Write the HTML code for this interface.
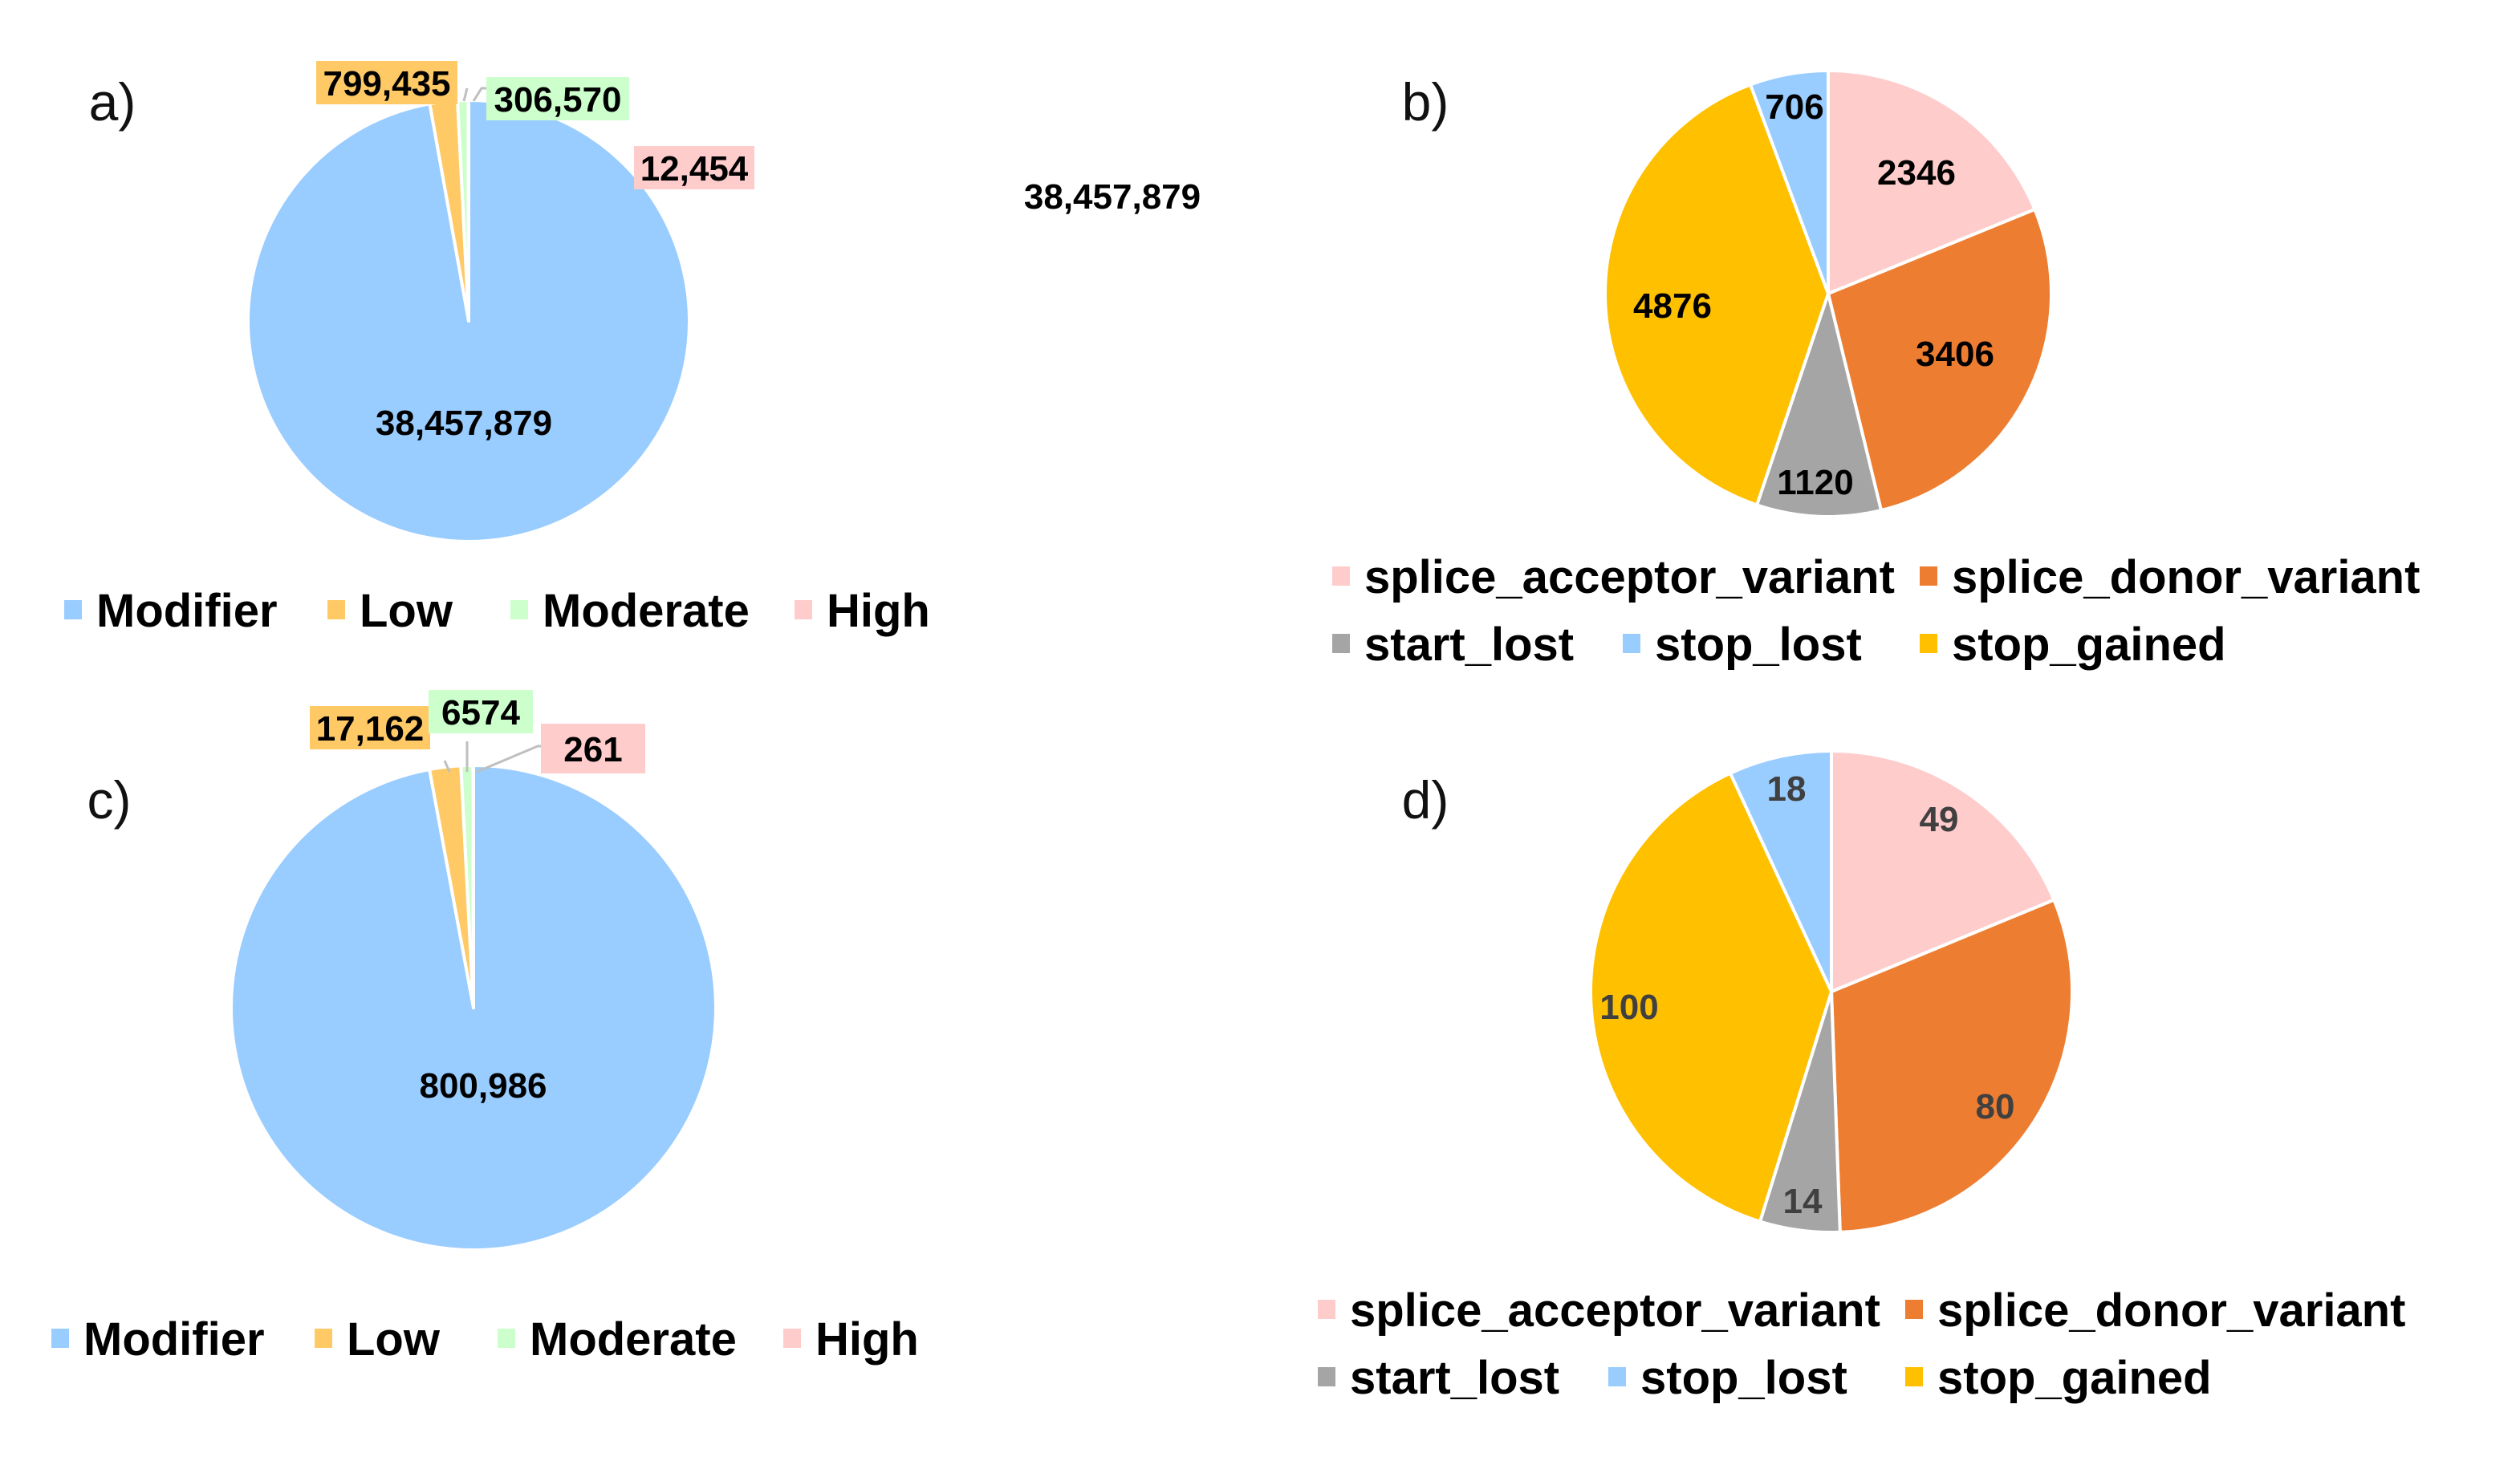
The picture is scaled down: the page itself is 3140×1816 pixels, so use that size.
<!DOCTYPE html>
<html><head><meta charset="utf-8">
<style>
html,body{margin:0;padding:0;background:#fff;}
svg{display:block;font-family:"Liberation Sans",Arial,sans-serif;}
.lbl{font-weight:bold;font-size:44px;}
.leg{font-weight:bold;font-size:58px;}
.panel{font-size:66px;fill:#111;}
</style></head>
<body>
<svg id="fig" width="3140" height="1816" viewBox="0 0 3140 1816" xmlns="http://www.w3.org/2000/svg">
<g id="layer"></g>
</svg>
<script>
// Chart a
const impactCats = ["Modifier","Low","Moderate","High"];
const impactColors = ["#99ccff","#ffc966","#ccffcc","#ffcccc"];
const valuesA = [38457879, 799435, 306570, 12454];
const labelsA = ["38,457,879","799,435","306,570","12,454"];
// Chart c
const valuesC = [800986, 17162, 6574, 261];
const labelsC = ["800,986","17,162","6574","261"];
// Chart b / d
const effectCats = ["splice_acceptor_variant","splice_donor_variant","start_lost","stop_lost","stop_gained"];
const effectColors = ["#ffcccc","#ed7d31","#a5a5a5","#99ccff","#ffc000"];
const sliceOrder = [0,1,2,4,3]; // clockwise order of effect categories
const valuesB = [2346, 3406, 1120, 4876, 706];
const valuesD = [49, 80, 14, 100, 18];

const NS="http://www.w3.org/2000/svg";
const layer=document.getElementById('layer');
function mk(tag,attrs,parent){const e=document.createElementNS(NS,tag);for(const k in attrs)e.setAttribute(k,attrs[k]);(parent||layer).appendChild(e);return e;}
function pt(cx,cy,r,a){return [cx+r*Math.sin(a),cy-r*Math.cos(a)];}
function pie(name,cx,cy,r,vals,colors){
  const g=mk('g',{});
  
  
  const tot=vals.reduce((s,v)=>s+v,0);let a=0;const mids=[];
  vals.forEach((v,i)=>{
    const a2=a+v/tot*2*Math.PI;
    const p1=pt(cx,cy,r,a),p2=pt(cx,cy,r,a2);
    const large=(a2-a)>Math.PI?1:0;
    const p=mk('path',{d:`M${cx},${cy} L${p1[0]},${p1[1]} A${r},${r} 0 ${large} 1 ${p2[0]},${p2[1]} Z`,fill:colors[i],stroke:'#fff','stroke-width':4,'stroke-linejoin':'round'},g);
    
    
    mids.push((a+a2)/2);a=a2;
  });
  return mids;
}
function txt(s,x,y,cls,fill,name,anchor){
  const t=mk('text',{x:x,y:y,'class':cls,fill:fill||'#000','text-anchor':anchor||'middle'});
  t.textContent=s;
  
  
  return t;
}
function box(s,x,y,w,h,color,name){
  const r=mk('rect',{x:x,y:y,width:w,height:h,fill:color});
  
  
  txt(s,x+w/2,y+h/2+16,'lbl','#000',name);
}
function line(pts){const l=mk('polyline',{points:pts.map(p=>p.join(',')).join(' '),fill:'none',stroke:'#bfbfbf','stroke-width':3});
  
  }

// Panel a
txt('a)',140,150,'panel','#111','panel-label-a');
pie('pie-a',584,400,275,valuesA,impactColors);
line([[578,126],[582,110]]);
line([[590,126],[600,110],[608,110]]);
box(labelsA[1],394,76,176,54,impactColors[1],'label-low-a');
box(labelsA[2],606,96,178,54,impactColors[2],'label-moderate-a');
box(labelsA[3],790,182,150,54,impactColors[3],'label-high-a');
txt(labelsA[0],578,542,'lbl','#000','label-modifier-a');
txt('38,457,879',1386,260,'lbl','#000','stray-label');

// Panel c
txt('c)',136,1020,'panel','#111','panel-label-c');
pie('pie-c',590,1256,302,valuesC,impactColors);
line([[554,948],[560,962]]);
line([[582,924],[582,962]]);
line([[594,962],[670,930],[676,930]]);
box(labelsC[1],386,880,150,54,impactColors[1],'label-low-c');
box(labelsC[2],534,860,130,54,impactColors[2],'label-moderate-c');
box(labelsC[3],674,902,130,62,impactColors[3],'label-high-c');
txt(labelsC[0],602,1368,'lbl','#000','label-modifier-c');

// Panel b
txt('b)',1776,150,'panel','#111','panel-label-b');
const colB=sliceOrder.map(i=>effectColors[i]);
pie('pie-b',2278,366,278,valuesB,colB);
const posB=[[2388,230],[2436,456],[2262,616],[2084,396],[2236,148]];
valuesB.forEach((v,i)=>txt(String(v),posB[i][0],posB[i][1],'lbl','#000','value-b-'+i));

// Panel d
txt('d)',1776,1020,'panel','#111','panel-label-d');
pie('pie-d',2282,1236,300,valuesD,colB);
const posD=[[2416,1036],[2486,1394],[2246,1512],[2030,1270],[2226,998]];
valuesD.forEach((v,i)=>txt(String(v),posD[i][0],posD[i][1],'lbl','#404040','value-d-'+i));

// Legends
function legend(name,items,colors,xs,ys){
  items.forEach((s,i)=>{
    const r=mk('rect',{x:xs[i],y:ys[i]-12,width:22,height:24,fill:colors[i]});
    
    
    txt(s,xs[i]+40,ys[i]+21,'leg','#000',name+'-entry-'+i,'start');
  });
}
legend('legend-a',impactCats,impactColors,[80,408,636,990],[760,760,760,760]);
legend('legend-c',impactCats,impactColors,[64,392,620,976],[1668,1668,1668,1668]);
legend('legend-b',effectCats,effectColors,[1660,2392,1660,2022,2392],[718,718,802,802,802]);
legend('legend-d',effectCats,effectColors,[1642,2374,1642,2004,2374],[1632,1632,1716,1716,1716]);
</script>
</body></html>
